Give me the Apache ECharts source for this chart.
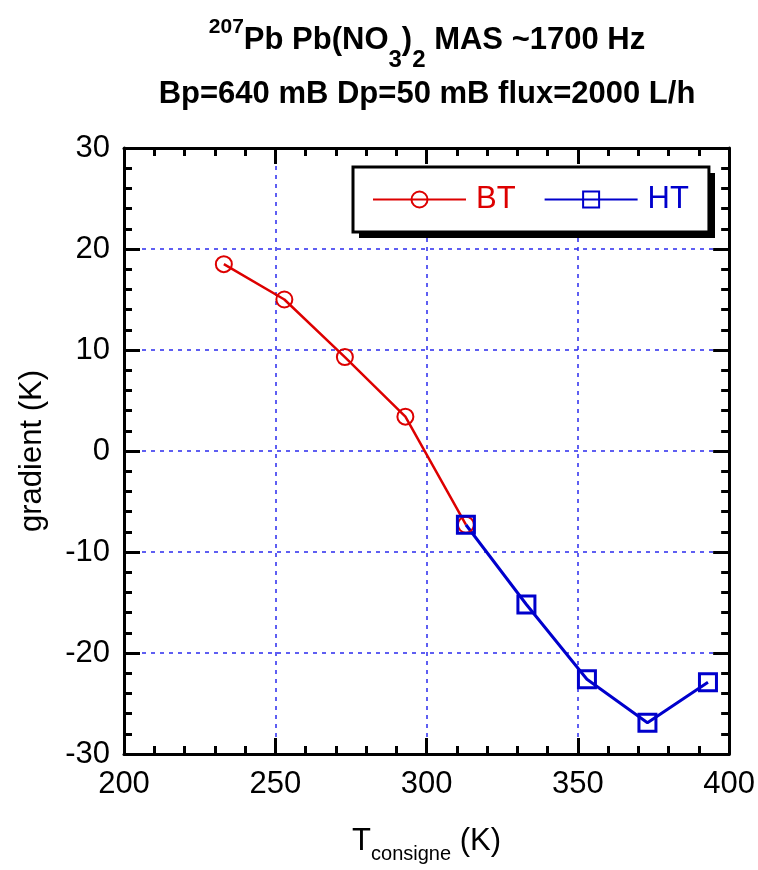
<!DOCTYPE html>
<html lang="en">
<head>
    <meta charset="UTF-8">
    <title>207Pb Pb(NO3)2 gradient</title>
    <script src="https://cdn.jsdelivr.net/npm/echarts@6/dist/echarts.min.js"></script>
    <style>
        html, body { margin: 0; padding: 0; background: #fff; }
        #chart { width: 758px; height: 870px; }
    </style>
</head>
<body>
<div id="chart"></div>
<script type="text/javascript">
    // valeurs
    var btTemp = [233, 253, 273, 293, 313];
    var btGrad = [18.5, 15.0, 9.3, 3.4, -7.3];
    var htTemp = [313, 333, 353, 373, 393];
    var htGrad = [-7.3, -15.2, -22.6, -26.9, -22.9];
    var seriesNames = ['BT', 'HT'];

    var red = '#dd0000';
    var blue = '#0000cc';
    var font = "'Liberation Sans', Arial, Helvetica, sans-serif";

    function pairs(xs, ys) {
        var out = [];
        for (var i = 0; i < xs.length; i++) out.push([xs[i], ys[i]]);
        return out;
    }

    var tickCommon = {
        axisLine: { onZero: false, lineStyle: { color: '#000', width: 3 } },
        axisTick: { inside: true, length: 16, lineStyle: { color: '#000', width: 3 } },
        minorTick: { show: true, splitNumber: 5, length: 8, lineStyle: { color: '#000', width: 3 } },
        splitLine: { show: false }
    };
    var gridDash = { show: true, lineStyle: { color: '#2a2aee', width: 1.5, type: [4, 5] } };

    var chart = echarts.init(document.getElementById('chart'));
    var option = {
        animation: false,
        backgroundColor: '#fff',
        title: [{
            left: 427,
            top: 15,
            textAlign: 'center',
            padding: 0,
            text: '{sup|207}{m|Pb Pb(NO}{sub|3}{m|)}{sub|2}{m| MAS ~1700 Hz}',
            textStyle: {
                rich: {
                    m: { fontFamily: font, fontWeight: 'bold', fontSize: 31, lineHeight: 50, color: '#000' },
                    sup: { fontFamily: font, fontWeight: 'bold', fontSize: 21, lineHeight: 22, padding: [0, 0, 26, 0], color: '#000' },
                    sub: { fontFamily: font, fontWeight: 'bold', fontSize: 24, lineHeight: 24, padding: [40, 0, 0, 0], color: '#000' }
                }
            }
        }, {
            left: 427,
            top: 76,
            textAlign: 'center',
            padding: 0,
            text: 'Bp=640 mB Dp=50 mB flux=2000 L/h',
            textStyle: { fontFamily: font, fontWeight: 'bold', fontSize: 31, lineHeight: 36, color: '#000' }
        }],
        // ombre portée du cadre de légende
        graphic: [{
            type: 'rect',
            z: 3,
            shape: { x: 359, y: 173, width: 356, height: 65 },
            style: { fill: '#000' }
        }],
        legend: {
            left: 353,
            top: 167,
            padding: [17, 20, 17, 19],
            itemWidth: 93,
            itemHeight: 20,
            itemGap: 28,
            backgroundColor: '#fff',
            borderColor: '#000',
            borderWidth: 3,
            borderRadius: 0,
            data: [
                { name: seriesNames[0], textStyle: { color: red } },
                { name: seriesNames[1], textStyle: { color: blue } }
            ],
            textStyle: { fontFamily: font, fontSize: 31, padding: [0, 0, 0, 5] }
        },
        grid: { left: 124, right: 28, top: 148, bottom: 116, containLabel: false },
        xAxis: [
            Object.assign({
                type: 'value', min: 200, max: 400, interval: 50, position: 'bottom',
                name: 'T{s|consigne} (K)',
                nameLocation: 'middle',
                nameGap: 64,
                nameTextStyle: {
                    fontFamily: font, fontSize: 31, color: '#000', lineHeight: 46,
                    rich: { s: { fontFamily: font, fontSize: 20, lineHeight: 22, verticalAlign: 'bottom', color: '#000' } }
                },
                axisLabel: { fontFamily: font, fontSize: 31, color: '#000', margin: 15 }
            }, tickCommon, { splitLine: gridDash }),
            Object.assign({
                type: 'value', min: 200, max: 400, interval: 50, position: 'top',
                axisLabel: { show: false }
            }, tickCommon)
        ],
        yAxis: [
            Object.assign({
                type: 'value', min: -30, max: 30, interval: 10, position: 'left',
                name: 'gradient (K)',
                nameLocation: 'middle',
                nameGap: 76,
                nameTextStyle: { fontFamily: font, fontSize: 31, color: '#000' },
                axisLabel: { fontFamily: font, fontSize: 31, color: '#000', margin: 14 }
            }, tickCommon, { splitLine: gridDash }),
            Object.assign({
                type: 'value', min: -30, max: 30, interval: 10, position: 'right',
                axisLabel: { show: false }
            }, tickCommon)
        ],
        series: [{
            name: seriesNames[0],
            type: 'line',
            xAxisIndex: 0,
            yAxisIndex: 0,
            data: pairs(btTemp, btGrad),
            symbol: 'circle',
            symbolSize: 16,
            lineStyle: { color: red, width: 2.5 },
            itemStyle: { color: 'rgba(255,255,255,0)', borderColor: red, borderWidth: 2 }
        }, {
            name: seriesNames[1],
            type: 'line',
            xAxisIndex: 0,
            yAxisIndex: 0,
            data: pairs(htTemp, htGrad),
            symbol: 'rect',
            symbolSize: 17,
            lineStyle: { color: blue, width: 3 },
            itemStyle: { color: 'rgba(255,255,255,0)', borderColor: blue, borderWidth: 3 }
        }]
    };
    chart.setOption(option);
</script>
</body>
</html>
